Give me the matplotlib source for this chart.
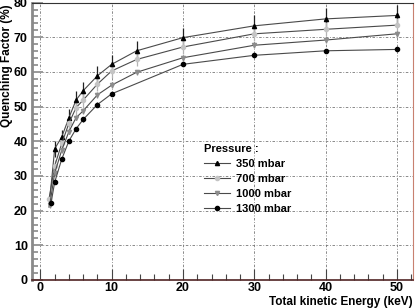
import numpy as np
import matplotlib
matplotlib.use("Agg")
import matplotlib.pyplot as plt
from matplotlib.ticker import MultipleLocator

plt.rcParams["font.family"] = ["Liberation Sans", "DejaVu Sans"]
plt.rcParams["font.weight"] = "bold"

# Quenching factor vs total kinetic energy, one series per pressure
e_350 = [1.2, 2, 3, 4, 5, 6, 8, 10, 13.5, 20, 30, 40, 50]
q_350 = [21.0, 37.8, 41.3, 46.8, 51.9, 54.6, 58.9, 62.2, 66.1, 69.9, 73.3, 75.3, 76.3]
err_350 = [1.0, 2.2, 2.0, 2.5, 2.6, 2.6, 2.7, 2.6, 2.9, 2.9, 3.0, 3.0, 3.0]

e_700 = [1.2, 2, 3, 4, 5, 6, 8, 10, 13.5, 20, 30, 40, 50]
q_700 = [23.3, 32.9, 39.4, 45.2, 49.7, 51.9, 56.5, 60.3, 63.6, 67.2, 71.0, 72.3, 73.5]
err_700 = [1.0, 1.8, 1.8, 2.0, 2.0, 2.0, 2.0, 2.0, 2.0, 2.0, 2.0, 2.0, 2.0]

e_1000 = [1.3, 2, 3, 4, 5, 6, 8, 10, 13.5, 20, 30, 40, 50]
q_1000 = [21.5, 30.8, 37.5, 42.8, 46.8, 48.8, 53.4, 56.2, 59.9, 64.1, 67.7, 69.2, 71.0]
err_1000 = [0.8] * 13

e_1300 = [1.5, 2, 3, 4, 5, 6, 8, 10, 20, 30, 40, 50]
q_1300 = [22.3, 28.2, 34.9, 40.1, 43.6, 46.3, 50.6, 53.7, 62.2, 64.8, 66.1, 66.5]
err_1300 = [0.6] * 12

series = [
    (e_350, q_350, err_350, "350 mbar", "^", "black", "#222222", 1),
    (e_700, q_700, err_700, "700 mbar", "o", "#c4c4c4", "#b4b4b4", 0),
    (e_1000, q_1000, err_1000, "1000 mbar", "v", "#8c8c8c", "#8c8c8c", 0),
    (e_1300, q_1300, err_1300, "1300 mbar", "o", "black", "#333333", 0),
]

fig = plt.figure(figsize=(4.15, 3.08), dpi=100)
ax = fig.add_axes([32 / 415, 28 / 308, 381 / 415, 277.4 / 308])

for e, q, err, lab, mk, mc, ec, first in series:
    ax.errorbar(e[first:], q[first:], yerr=err[first:], fmt="none", ecolor=ec,
                elinewidth=0.9, capsize=0, zorder=2)
    ax.plot(e, q, color="#4a4a4a", lw=0.8, marker=mk, ms=3, mfc=mc, mec=mc,
            markevery=list(range(first, len(e))), label=lab, zorder=3)

ax.set_xlim(-1.18, 52.26)
ax.set_ylim(0, 80)
ax.xaxis.set_major_locator(MultipleLocator(10))
ax.xaxis.set_minor_locator(MultipleLocator(2))
ax.yaxis.set_major_locator(MultipleLocator(10))
ax.yaxis.set_minor_locator(MultipleLocator(2))
ax.grid(True, which="major", color="#777777", lw=0.6, linestyle=(0, (3, 2, 1, 2)))
ax.set_axisbelow(True)

ax.tick_params(axis="y", which="both", direction="in", color="#9a9a9a", width=1.4,
               labelsize=9, pad=3)
ax.tick_params(axis="y", which="major", length=8)
ax.tick_params(axis="y", which="minor", length=4)
ax.tick_params(axis="x", which="both", direction="in", color="#444444", width=0.8,
               labelsize=9, pad=1.5)
ax.tick_params(axis="x", which="major", length=8)
ax.tick_params(axis="x", which="minor", length=4)

ax.spines["left"].set_color("#8a8a8a")
ax.spines["left"].set_linewidth(2.0)
ax.spines["top"].set_color("#333333")
ax.spines["right"].set_color("#c88070")
ax.spines["bottom"].set_color("#502424")
ax.spines["bottom"].set_linewidth(1.2)

fig.text(7 / 415, 1 - 4 / 308, "Quenching Factor (%)", rotation=90, ha="center",
         va="top", fontsize=8.5, fontweight="bold")
fig.text(413 / 415, 1 - 301.5 / 308, "Total kinetic Energy (keV)", ha="right",
         va="center", fontsize=8.5, fontweight="bold")

leg = ax.legend(title="Pressure :", loc="upper left",
                bbox_to_anchor=((204 - 32) / 381, 1 - (144 - 2.6) / 277.4),
                frameon=False, borderpad=0, borderaxespad=0, fontsize=8,
                handlelength=2.3, handletextpad=0.6, labelspacing=0.45,
                alignment="left", title_fontproperties={"weight": "bold", "size": 8})

fig.savefig("out.png", dpi=100)
